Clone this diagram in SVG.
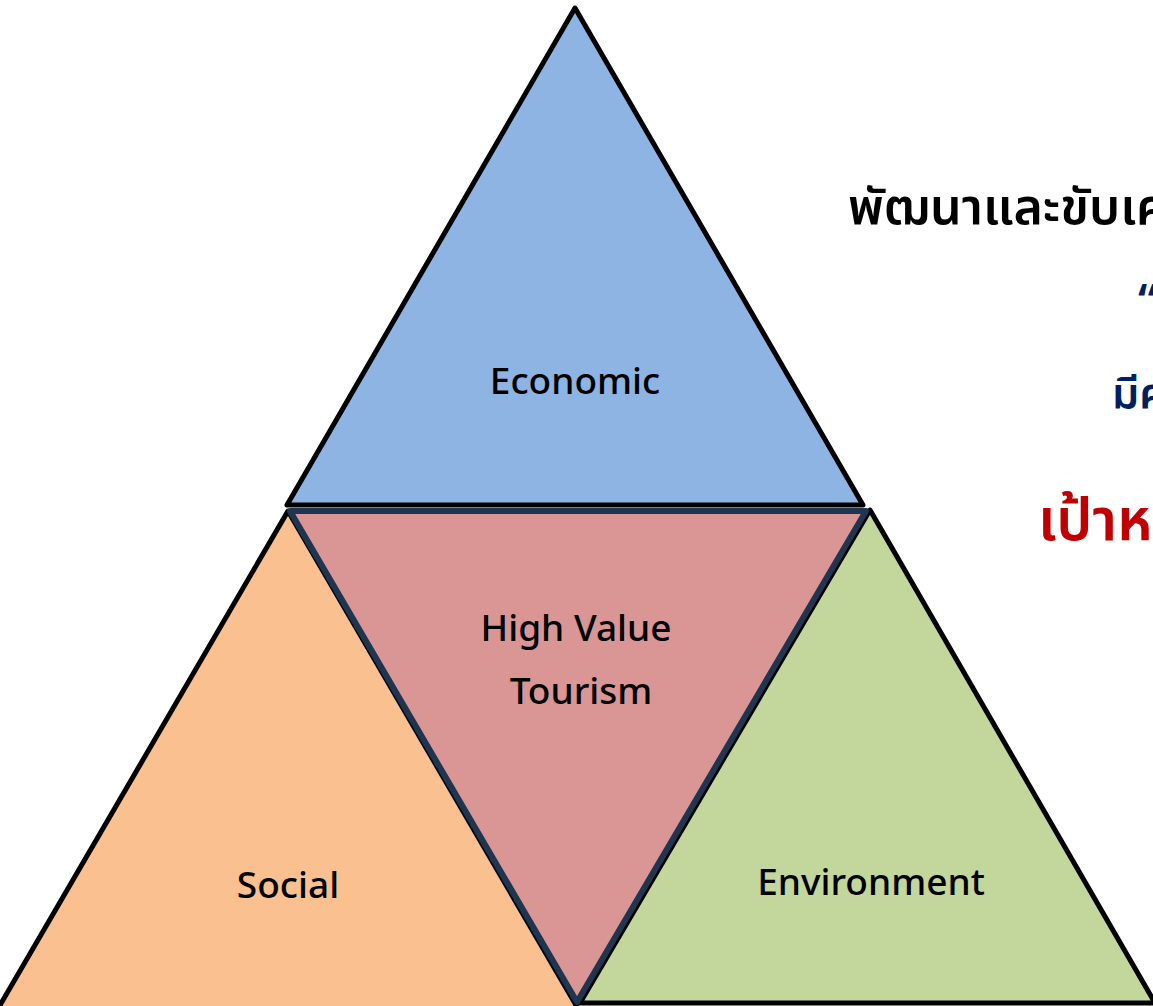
<svg xmlns="http://www.w3.org/2000/svg" width="1153" height="1006" viewBox="0 0 1153 1006">
<style>
.tri{stroke:#000;stroke-width:5;stroke-linejoin:round}
.lbl{font-family:"Noto Sans","Liberation Sans",sans-serif;font-size:37px;font-weight:500;fill:#000;text-anchor:middle}
.th{font-family:"Noto Sans Thai","Noto Sans","Liberation Sans",sans-serif;font-weight:600}
</style>
<rect width="1153" height="1006" fill="#fff"/>
<g id="social">
<polygon class="tri" points="288,511 -4,1012 580,1012" fill="#FAC090"/>
<text class="lbl" x="288" y="898">Social</text>
</g>
<g id="environment">
<polygon class="tri" points="870,510 580,1003 1155,1003" fill="#C3D69B"/>
<text class="lbl" x="871" y="895">Environment</text>
</g>
<g id="high-value-tourism">
<polygon points="290,511 866,511 577,1002" fill="#D99694" stroke="#1F3550" stroke-width="6" stroke-linejoin="round"/>
<text class="lbl" x="576" y="641">High Value</text>
<text class="lbl" x="581" y="704">Tourism</text>
</g>
<g id="economic">
<polygon class="tri" points="575,8 287,505 863,505" fill="#8EB4E3"/>
<text class="lbl" x="575" y="394">Economic</text>
</g>
<g id="texts">
<text class="th" x="848" y="224" font-size="50" fill="#000">พัฒนาและขับเคลื่อน</text>
<text class="th" x="1138" y="318" font-size="46" fill="#002060">“</text>
<text class="th" x="1112" y="408" font-size="43" fill="#002060">มีคุณภาพ</text>
<text class="th" x="1038" y="540" font-size="58" fill="#C00000">เป้าหมาย</text>
</g>
</svg>
